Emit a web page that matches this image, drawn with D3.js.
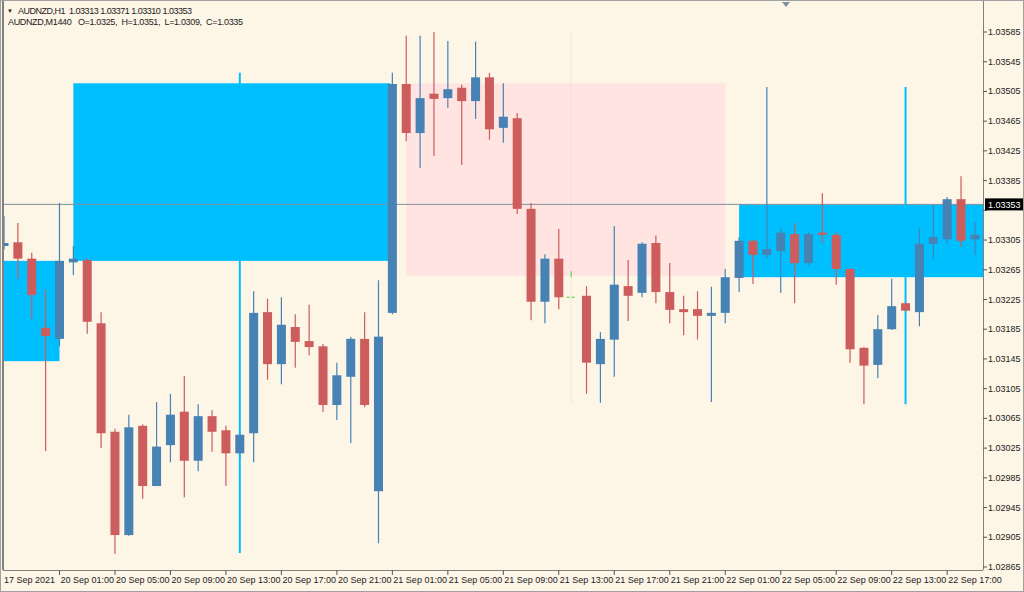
<!DOCTYPE html>
<html><head><meta charset="utf-8">
<script src="https://cdn.jsdelivr.net/npm/d3@7"></script>
<style>body{margin:0;background:#fff}svg{display:block}</style>
</head><body><svg id="chart"></svg>
<script>
const width = 1024, height = 592;
const svg = d3.select("#chart").attr("width", width).attr("height", height);

// OHLC per H1 bar (index = bar slot); null = empty slot
const opens  = [1.03297,1.03302,1.03280,1.03187,1.03172,1.03275,1.03278,1.03193,1.03047,1.02908,1.03055,1.02974,1.03029,1.03074,1.03008,1.03068,1.03049,1.03018,1.03045,1.03208,1.03138,1.03188,1.03169,1.03162,1.03083,1.03121,1.03172,1.02967,1.03207,1.03515,1.03449,1.03502,1.03496,1.03510,1.03492,1.03524,1.03456,1.03469,1.03347,1.03222,1.03280,null,1.03230,1.03138,1.03171,1.03243,1.03234,1.03301,1.03235,1.03212,1.03212,1.03203,1.03207,1.03254,1.03304,1.03285,1.03290,1.03313,1.03274,1.03315,1.03312,1.03266,1.03160,1.03137,1.03185,1.03220,1.03208,1.03300,1.03306,1.03360,1.03306];
const highs  = [1.03337,1.03328,1.03288,1.03238,1.03355,1.03297,1.03281,1.03208,1.03051,1.03070,1.03057,1.03087,1.03098,1.03122,1.03084,1.03076,1.03055,1.03049,1.03236,1.03226,1.03228,1.03205,1.03218,1.03165,1.03140,1.03175,1.03208,1.03251,1.03530,1.03580,1.03580,1.03585,1.03573,1.03514,1.03572,1.03530,1.03516,1.03476,1.03355,1.03286,1.03320,null,1.03243,1.03181,1.03324,1.03278,1.03302,1.03311,1.03274,1.03230,1.03236,1.03242,1.03266,1.03309,1.03305,1.03511,1.03321,1.03328,1.03316,1.03368,1.03316,1.03267,1.03161,1.03204,1.03253,1.03224,1.03321,1.03352,1.03363,1.03391,1.03329];
const lows   = [1.03292,1.03253,1.03199,1.03021,1.03162,1.03258,1.03179,1.03025,1.02883,1.02907,1.02957,1.02974,1.03006,1.02959,1.02994,1.03020,1.02974,1.03009,1.03006,1.03117,1.03111,1.03133,1.03150,1.03074,1.03063,1.03032,1.03080,1.02897,1.03205,1.03438,1.03402,1.03418,1.03483,1.03406,1.03468,1.03440,1.03436,1.03340,1.03197,1.03193,1.03212,null,1.03098,1.03086,1.03121,1.03196,1.03228,1.03220,1.03193,1.03177,1.03171,1.03087,1.03193,1.03235,1.03246,1.03281,1.03234,1.03220,1.03271,1.03301,1.03245,1.03140,1.03084,1.03119,1.03184,1.03205,1.03189,1.03280,1.03300,1.03296,1.03285];
const closes = [1.03301,1.03280,1.03231,1.03176,1.03277,1.03280,1.03195,1.03045,1.02908,1.03053,1.02974,1.03027,1.03070,1.03008,1.03068,1.03047,1.03018,1.03043,1.03207,1.03138,1.03191,1.03168,1.03161,1.03083,1.03123,1.03172,1.03083,1.03175,1.03515,1.03449,1.03496,1.03495,1.03508,1.03492,1.03524,1.03454,1.03471,1.03347,1.03222,1.03280,1.03228,null,1.03140,1.03172,1.03245,1.03230,1.03300,1.03235,1.03211,1.03208,1.03203,1.03207,1.03255,1.03304,1.03285,1.03293,1.03315,1.03274,1.03313,1.03312,1.03266,1.03158,1.03136,1.03185,1.03216,1.03210,1.03300,1.03309,1.03360,1.03304,1.03312];

// highlighted spike bars
const spikeIdx = [17, 65];
const spikeTop = [1.03530, 1.03511];
const spikeBot = [1.02884, 1.03084];

// zones
const zoneStart = [-0.5, 5, 29, 53];
const zoneEnd   = [4, 27.85, 52, 72];
const zoneTop   = [1.03277, 1.03516, 1.03516, 1.03353];
const zoneBot   = [1.03142, 1.03277, 1.03257, 1.03255];
const zoneFill  = ["#00bfff", "#00bfff", "#ffe4e1", "#00bfff"];

const priceTicks = d3.range(19).map(i => +(1.03585 - i * 0.0004).toFixed(5));
const timeIdx = [4,8,12,16,20,24,28,32,36,40,44,48,52,56,60,64,68];
const timeLabels = ["20 Sep 01:00","20 Sep 05:00","20 Sep 09:00","20 Sep 13:00","20 Sep 17:00","20 Sep 21:00",
  "21 Sep 01:00","21 Sep 05:00","21 Sep 09:00","21 Sep 13:00","21 Sep 17:00","21 Sep 21:00",
  "22 Sep 01:00","22 Sep 05:00","22 Sep 09:00","22 Sep 13:00","22 Sep 17:00"];
const lastPrice = 1.03353;

const plotL = 4, plotR = 983, plotT = 3, plotB = 570;
const x = d3.scaleLinear().domain([0, 70]).range([4, 4 + 13.87 * 70]);
const y = d3.scaleLinear().domain([1.02865, 1.03585]).range([567, 32]);

const font = "'Liberation Sans', Arial, sans-serif";
const fs = "9px";
const up = "#4682b4", dn = "#cd5c5c";

svg.append("rect").attr("width", width).attr("height", height).attr("fill", "#fdf5e6");
svg.append("rect").attr("x", 0.5).attr("y", 0.5).attr("width", width - 1).attr("height", height - 1)
  .attr("fill", "none").attr("stroke", "#a0a0a0");
svg.append("line").attr("x1", 3).attr("x2", 3).attr("y1", 1).attr("y2", plotB).attr("stroke", "#808080").attr("stroke-width", 2);

svg.append("clipPath").attr("id", "plot").append("rect")
  .attr("x", plotL).attr("y", plotT).attr("width", plotR - plotL).attr("height", plotB - plotT);
const g = svg.append("g").attr("clip-path", "url(#plot)");

g.selectAll("rect.zone").data(zoneStart).enter().append("rect")
  .attr("x", (d, i) => x(d)).attr("width", (d, i) => x(zoneEnd[i]) - x(d))
  .attr("y", (d, i) => y(zoneTop[i])).attr("height", (d, i) => y(zoneBot[i]) - y(zoneTop[i]))
  .attr("fill", (d, i) => zoneFill[i]);

// dotted marker line and green marks at the empty slot
g.append("line").attr("x1", x(41) - 1.5).attr("x2", x(41) - 1.5).attr("y1", y(1.03585)).attr("y2", y(1.03086))
  .attr("stroke", "#f8d0d0").attr("stroke-dasharray", "1,1");
g.append("line").attr("x1", x(41) - 6).attr("x2", x(41) + 4).attr("y1", y(1.03228)).attr("y2", y(1.03228))
  .attr("stroke", "#33dd33").attr("stroke-dasharray", "3,2");
g.append("line").attr("x1", x(41) - 1.5).attr("x2", x(41) - 1.5).attr("y1", y(1.03263)).attr("y2", y(1.03255))
  .attr("stroke", "#33dd33");

// current price line
g.append("line").attr("x1", plotL).attr("x2", plotR).attr("y1", y(lastPrice)).attr("y2", y(lastPrice))
  .attr("stroke", "#8090a0");

const bars = d3.range(opens.length).filter(i => opens[i] !== null);
const col = i => closes[i] >= opens[i] ? up : dn;

g.selectAll("line.wick").data(bars).enter().append("line")
  .attr("x1", i => x(i)).attr("x2", i => x(i))
  .attr("y1", i => y(highs[i])).attr("y2", i => y(lows[i]))
  .attr("stroke", col).attr("stroke-width", 1.2);

g.selectAll("line.spike").data(spikeIdx).enter().append("line")
  .attr("x1", d => x(d)).attr("x2", d => x(d))
  .attr("y1", (d, i) => y(spikeTop[i])).attr("y2", (d, i) => y(spikeBot[i]))
  .attr("stroke", "#00bfff").attr("stroke-width", 2);

g.selectAll("rect.body").data(bars).enter().append("rect")
  .attr("x", i => x(i) - 4.5).attr("width", 9)
  .attr("y", i => y(Math.max(opens[i], closes[i])))
  .attr("height", i => Math.max(2, Math.abs(y(opens[i]) - y(closes[i]))))
  .attr("fill", col);

// axes
svg.append("line").attr("x1", plotR + 0.5).attr("x2", plotR + 0.5).attr("y1", 1).attr("y2", plotB).attr("stroke", "#808080");
svg.append("line").attr("x1", 3).attr("x2", plotR).attr("y1", plotB + 0.5).attr("y2", plotB + 0.5).attr("stroke", "#808080");

const ya = svg.append("g");
ya.selectAll("line").data(priceTicks).enter().append("line")
  .attr("x1", plotR).attr("x2", plotR + 4).attr("y1", d => y(d)).attr("y2", d => y(d)).attr("stroke", "#555");
ya.selectAll("text").data(priceTicks.filter(d => Math.abs(y(d) - y(lastPrice)) > 8)).enter().append("text")
  .attr("x", 988).attr("y", d => y(d) + 3).text(d => d.toFixed(5))
  .attr("font-family", font).attr("font-size", fs).attr("fill", "#222");

svg.append("rect").attr("x", plotR + 2).attr("y", y(lastPrice) - 6).attr("width", 38).attr("height", 12).attr("fill", "#000");
svg.append("text").attr("x", 988).attr("y", y(lastPrice) + 3.5).text(lastPrice.toFixed(5))
  .attr("font-family", font).attr("font-size", fs).attr("fill", "#fff");

const xa = svg.append("g");
xa.selectAll("line").data(timeIdx).enter().append("line")
  .attr("x1", d => x(d)).attr("x2", d => x(d)).attr("y1", plotB).attr("y2", plotB + 5).attr("stroke", "#555");
xa.selectAll("text").data(timeIdx).enter().append("text")
  .attr("x", d => x(d) + 1).attr("y", plotB + 13).text((d, i) => timeLabels[i])
  .attr("font-family", font).attr("font-size", fs).attr("fill", "#222");
xa.append("text").attr("x", 4).attr("y", plotB + 13).text("17 Sep 2021")
  .attr("font-family", font).attr("font-size", fs).attr("fill", "#222");

// header
svg.append("text").attr("x", 7).attr("y", 13).text("\u25BC").attr("font-size", "6px").attr("font-family", font).attr("fill", "#222");
svg.append("text").attr("x", 18).attr("y", 14).text("AUDNZD,H1  1.03313 1.03371 1.03310 1.03353")
  .attr("textLength", 174).attr("lengthAdjust", "spacing")
  .attr("font-family", font).attr("font-size", fs).attr("fill", "#222").style("white-space", "pre");
svg.append("text").attr("x", 8).attr("y", 25).text("AUDNZD,M1440   O=1.0325,  H=1.0351,  L=1.0309,  C=1.0335")
  .attr("textLength", 235).attr("lengthAdjust", "spacing")
  .attr("font-family", font).attr("font-size", fs).attr("fill", "#222").style("white-space", "pre");
svg.append("path").attr("d", "M782,2 L790,2 L786,7 Z").attr("fill", "#8090a0");
</script></body></html>
